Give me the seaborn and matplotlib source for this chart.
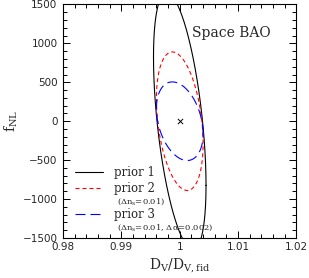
import numpy as np
import pandas as pd
import seaborn as sns
import matplotlib
matplotlib.use("Agg")
import matplotlib.pyplot as plt
from matplotlib.ticker import MultipleLocator

# fiducial model
fid_dv = [1.0]
fid_fnl = [0.0]

# 1-sigma contours: sigma(D_V/D_V,fid), sigma(f_NL), correlation
priors = ["prior 1", "prior 2", "prior 3"]
sigma_dv = [0.0045, 0.0040, 0.0040]
sigma_fnl = [1650.0, 890.0, 505.0]
rho = [-0.499, -0.32, -0.32]
prior_notes = ["", "(\u0394n$_s$=0.01)", "(\u0394n$_s$=0.01, \u0394\u03b1=0.002)"]

sns.set_style("ticks")
plt.rcParams["font.family"] = ["DejaVu Serif"]
plt.rcParams["mathtext.default"] = "regular"

# build the ellipse outlines from the covariance parameters
t = np.linspace(0, 2 * np.pi, 600)
rows = []
for name, sx, sy, r in zip(priors, sigma_dv, sigma_fnl, rho):
    xs = fid_dv[0] + sx * np.cos(t)
    ys = fid_fnl[0] + sy * (r * np.cos(t) + np.sqrt(1 - r ** 2) * np.sin(t))
    rows.append(pd.DataFrame({"dv": xs, "fnl": ys, "prior": name}))
df = pd.concat(rows, ignore_index=True)

fig = plt.figure(figsize=(3.09, 2.78), dpi=100)
ax = fig.add_axes([0.204, 0.144, 0.7555, 0.840])

palette = {"prior 1": "black", "prior 2": "red", "prior 3": "blue"}
dashes = {"prior 1": "", "prior 2": (3.6, 2.7), "prior 3": (9, 4.5)}
sns.lineplot(data=df, x="dv", y="fnl", hue="prior", style="prior",
             palette=palette, dashes=dashes, sort=False, estimator=None,
             linewidth=0.8, legend=False, ax=ax)
sns.scatterplot(x=fid_dv, y=fid_fnl, marker="x", color="black", s=14,
                linewidth=0.7, ax=ax)

ax.set_xlim(0.98, 1.02)
ax.set_ylim(-1500, 1500)
ax.xaxis.set_minor_locator(MultipleLocator(0.002))
ax.yaxis.set_minor_locator(MultipleLocator(100))
ax.set_xticks([0.98, 0.99, 1.0, 1.01, 1.02])
ax.set_xticklabels(["0.98", "0.99", "1", "1.01", "1.02"], family="DejaVu Sans")
ax.set_yticks([-1500, -1000, -500, 0, 500, 1000, 1500])
ax.set_yticklabels(["\u22121500", "\u22121000", "\u2212500", "0", "500", "1000", "1500"],
                   family="DejaVu Sans")
ax.tick_params(which="both", direction="in", top=True, right=True,
               labelsize=7.5, width=0.7, color="black")
ax.tick_params(which="major", length=5)
ax.tick_params(which="minor", length=2.8)
ax.tick_params(axis="x", pad=3)
ax.tick_params(axis="y", pad=4)
for sp in ax.spines.values():
    sp.set_linewidth(0.8)
    sp.set_color("black")

ax.set_xlabel("D$_V$/D$_{V,fid}$", fontsize=10, labelpad=3)
ax.set_ylabel("f$_{NL}$", fontsize=10, labelpad=2)

ax.text(0.552, 0.878, "Space BAO", transform=ax.transAxes, fontsize=10,
        va="center", ha="left")

# one single-row legend per prior so the notes fit underneath
row_y = [0.28, 0.212, 0.099]
note_y = [None, 0.157, 0.045]
handles = ax.get_lines()[:3]
legs = []
for h, name, ry, note, ny in zip(handles, priors, row_y, prior_notes, note_y):
    leg = ax.legend([h], [name], loc="center left", bbox_to_anchor=(0.051, ry),
                    frameon=False, fontsize=8.5, handlelength=2.4,
                    handletextpad=0.95, borderpad=0, borderaxespad=0)
    legs.append(leg)
    if note:
        ax.text(0.231, ny, note, transform=ax.transAxes, fontsize=6,
                va="center", ha="left")
for leg in legs[:-1]:
    ax.add_artist(leg)

fig.savefig("out.png", dpi=100)
